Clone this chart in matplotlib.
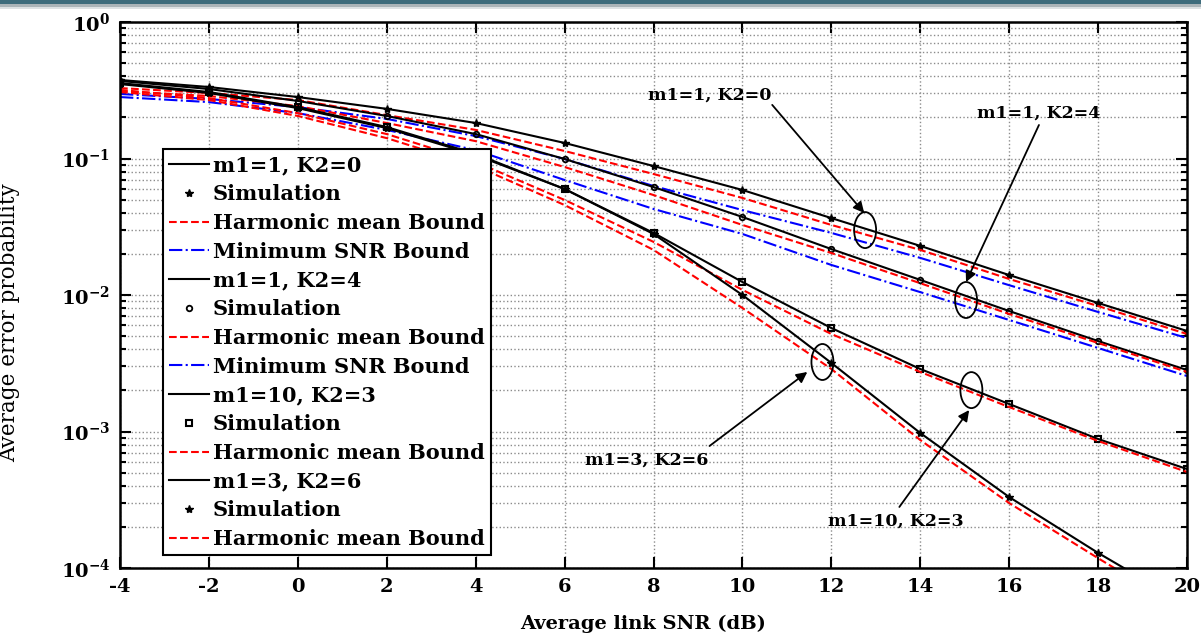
import numpy as np
import matplotlib.pyplot as plt
from matplotlib.patches import Ellipse, Rectangle
from matplotlib.transforms import ScaledTranslation
from matplotlib.ticker import LogLocator, FuncFormatter, NullFormatter, MultipleLocator

plt.rcParams['font.family'] = ['DejaVu Serif']
plt.rcParams['font.weight'] = 'bold'
plt.rcParams['mathtext.fontset'] = 'dejavuserif'
plt.rcParams['axes.unicode_minus'] = False

# datos
snr = [-4, -2, 0, 2, 4, 6, 8, 10, 12, 14, 16, 18, 20]

pe_m1_1_k2_0 = [0.376, 0.334, 0.282, 0.231, 0.182, 0.130, 0.0881, 0.0588, 0.0366, 0.0229, 0.0140, 0.00874, 0.00545]
hm_m1_1_k2_0 = [0.328, 0.302, 0.268, 0.208, 0.162, 0.1135, 0.0770, 0.0514, 0.0326, 0.0214, 0.0131, 0.00830, 0.00518]
ms_m1_1_k2_0 = [0.297, 0.273, 0.238, 0.195, 0.146, 0.0992, 0.0629, 0.0419, 0.0285, 0.0187, 0.0118, 0.00751, 0.00484]

pe_m1_1_k2_4 = [0.370, 0.323, 0.264, 0.205, 0.151, 0.0992, 0.0618, 0.0373, 0.0217, 0.0129, 0.00763, 0.00460, 0.00282]
hm_m1_1_k2_4 = [0.312, 0.287, 0.242, 0.182, 0.134, 0.0866, 0.0540, 0.0326, 0.0203, 0.0122, 0.00726, 0.00445, 0.00273]
ms_m1_1_k2_4 = [0.282, 0.259, 0.215, 0.162, 0.115, 0.0696, 0.0427, 0.0280, 0.0166, 0.0105, 0.00656, 0.00409, 0.00255]

pe_m1_10_k2_3 = [0.357, 0.307, 0.238, 0.170, 0.108, 0.0598, 0.0285, 0.01245, 0.00573, 0.00287, 0.00159, 0.000881, 0.000531]
hm_m1_10_k2_3 = [0.318, 0.277, 0.215, 0.151, 0.0943, 0.0497, 0.0245, 0.0109, 0.00518, 0.00273, 0.00151, 0.000852, 0.000505]

pe_m1_3_k2_6 = [0.351, 0.302, 0.234, 0.167, 0.106, 0.0598, 0.0280, 0.0100, 0.00318, 0.000975, 0.000331, 0.000129, 0.0000536]
hm_m1_3_k2_6 = [0.307, 0.268, 0.205, 0.141, 0.0881, 0.0456, 0.0214, 0.00803, 0.00287, 0.000866, 0.000299, 0.000118, 0.0000476]

fig = plt.figure(figsize=(12.01, 6.38), dpi=100)
ax = fig.add_axes([120 / 1201, 1 - 568 / 638, 1067 / 1201, 546 / 638])

# banda superior
fig.add_artist(Rectangle((0, 1 - 4 / 638), 1, 4 / 638, transform=fig.transFigure, color='#3d6c7c', lw=0))
fig.add_artist(Rectangle((0, 1 - 7 / 638), 1, 3 / 638, transform=fig.transFigure, color='#aab4b8', lw=0))
fig.add_artist(Rectangle((0, 1 - 9 / 638), 1, 2 / 638, transform=fig.transFigure, color='#dde2e4', lw=0))

lw = 1.5
# m1=1, K2=0
ax.plot(snr, pe_m1_1_k2_0, 'k-', lw=lw, label='m1=1, K2=0')
ax.plot(snr, pe_m1_1_k2_0, 'k*', ms=6, ls='none', label='Simulation')
ax.plot(snr, hm_m1_1_k2_0, 'r--', lw=lw, label='Harmonic mean Bound')
ax.plot(snr, ms_m1_1_k2_0, 'b-.', lw=lw, label='Minimum SNR Bound')
# m1=1, K2=4
ax.plot(snr, pe_m1_1_k2_4, 'k-', lw=lw, label='m1=1, K2=4')
ax.plot(snr, pe_m1_1_k2_4, 'ko', ms=4, mfc='none', mew=1.3, ls='none', label='Simulation')
ax.plot(snr, hm_m1_1_k2_4, 'r--', lw=lw, label='Harmonic mean Bound')
ax.plot(snr, ms_m1_1_k2_4, 'b-.', lw=lw, label='Minimum SNR Bound')
# m1=10, K2=3
ax.plot(snr, pe_m1_10_k2_3, 'k-', lw=lw, label='m1=10, K2=3')
ax.plot(snr, pe_m1_10_k2_3, 'ks', ms=5, mfc='none', mew=1.5, ls='none', label='Simulation')
ax.plot(snr, hm_m1_10_k2_3, 'r--', lw=lw, label='Harmonic mean Bound')
# m1=3, K2=6
ax.plot(snr, pe_m1_3_k2_6, 'k-', lw=lw, label='m1=3, K2=6')
ax.plot(snr, pe_m1_3_k2_6, 'k*', ms=6, ls='none', label='Simulation')
ax.plot(snr, hm_m1_3_k2_6, 'r--', lw=lw, label='Harmonic mean Bound')

ax.set_yscale('log')
ax.set_xlim(-4, 20)
ax.set_ylim(1e-4, 1)
ax.xaxis.set_major_locator(MultipleLocator(2))
ax.yaxis.set_major_locator(LogLocator(base=10, numticks=10))
ax.yaxis.set_minor_locator(LogLocator(base=10, subs=np.arange(2, 10), numticks=10))
ax.yaxis.set_minor_formatter(NullFormatter())
ax.yaxis.set_major_formatter(FuncFormatter(lambda v, p: r'$\mathbf{10^{%d}}$' % round(np.log10(v))))

ax.grid(True, which='major', axis='both', ls=':', color='0.55', lw=1.0)
ax.grid(True, which='minor', axis='y', ls=':', color='0.55', lw=1.0)
ax.tick_params(which='both', direction='in', top=True, right=True, labelsize=14, width=1.5)
ax.tick_params(which='major', length=8, pad=7)
ax.tick_params(which='minor', length=4)
for s in ax.spines.values():
    s.set_linewidth(1.8)

ax.set_xlabel('Average link SNR (dB)', fontsize=14, fontweight='bold')
ax.xaxis.set_label_coords(0.49, -0.085)
ax.set_ylabel('Average error probability', fontsize=15.5, fontweight='normal')
ax.yaxis.set_label_coords(-0.094, 0.45)

leg = ax.legend(loc='upper left', bbox_to_anchor=(0.0403, 0.767), fontsize=15, labelspacing=0.42,
                handlelength=1.9, handletextpad=0.2, borderpad=0.3, borderaxespad=0,
                fancybox=False, framealpha=1, edgecolor='k')
leg.get_frame().set_linewidth(1.5)

# elipses y flechas de anotacion
def ellipse(x, y):
    tr = fig.dpi_scale_trans + ScaledTranslation(x, y, ax.transData)
    e = Ellipse((0, 0), 0.22, 0.36, transform=tr, fill=False, ec='k', lw=1.3, zorder=5)
    ax.add_artist(e)

def arrow(start, end):
    ax.annotate('', xy=end, xytext=start,
                arrowprops=dict(arrowstyle='-|>', color='k', lw=1.3, mutation_scale=16, shrinkA=0, shrinkB=0))

ellipse(12.76, 0.0299)
ellipse(15.03, 0.00919)
ellipse(11.80, 0.00323)
ellipse(15.15, 0.00201)

ax.text(9.26, 0.292, 'm1=1, K2=0', fontsize=12.5, ha='center', va='center')
arrow((10.67, 0.247), (12.74, 0.0399))
ax.text(16.67, 0.2154, 'm1=1, K2=4', fontsize=12.5, ha='center', va='center')
arrow((16.67, 0.176), (15.03, 0.01245))
ax.text(7.84, 0.000618, 'm1=3, K2=6', fontsize=12.5, ha='center', va='center')
arrow((9.26, 0.000783), (11.46, 0.00273))
ax.text(13.46, 0.000221, 'm1=10, K2=3', fontsize=12.5, ha='center', va='center')
arrow((13.53, 0.00028), (15.10, 0.001436))

plt.savefig('out.png', dpi=100)
